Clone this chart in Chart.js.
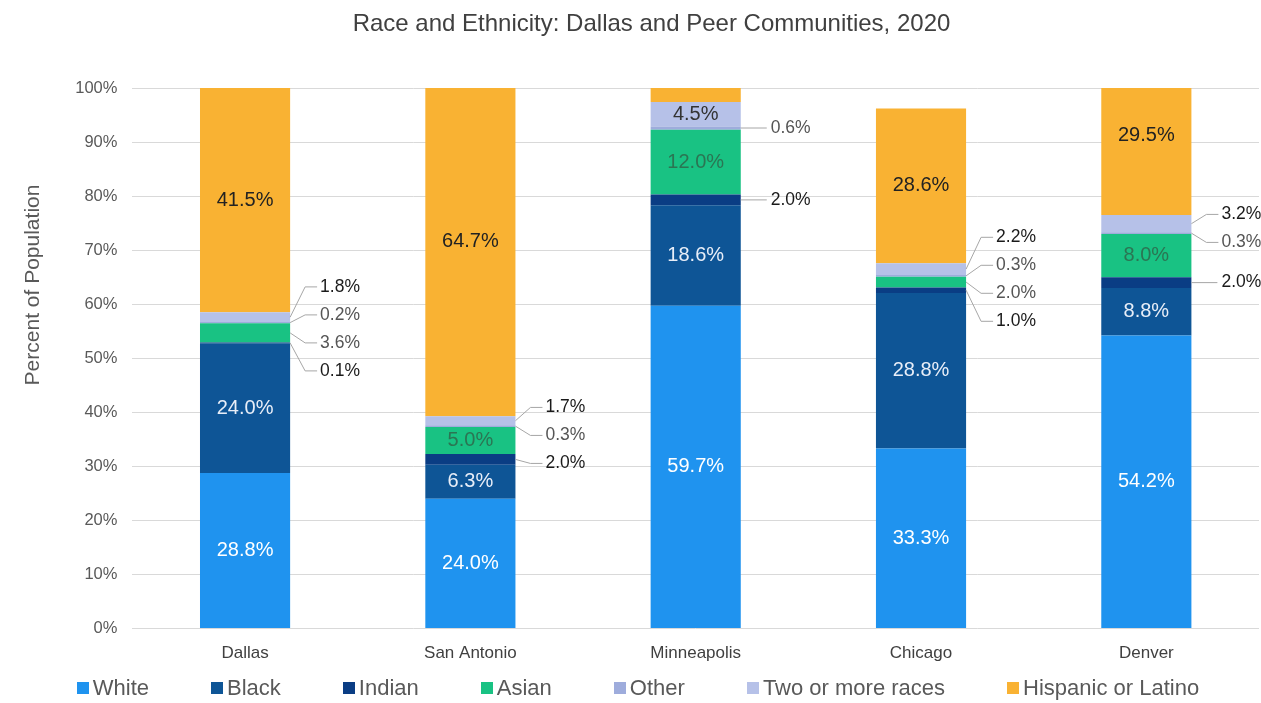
<!DOCTYPE html>
<html>
<head>
<meta charset="utf-8">
<title>Race and Ethnicity: Dallas and Peer Communities, 2020</title>
<script src="https://cdn.jsdelivr.net/npm/chart.js@4"></script>
<style>
  body { margin: 0; background: #fff; }
  #wrap { position: relative; width: 1261px; height: 703px; }
  #legend {
    position: absolute; left: 15px; right: 0; top: 674px;
    margin: 0; padding: 0; list-style: none;
    display: flex; justify-content: center; gap: 62px;
    font: 22px "Liberation Sans", Arial, sans-serif; line-height: 28px; color: #595959;
  }
  #legend li { display: flex; align-items: center; white-space: nowrap; }
  #legend .box { width: 12px; height: 12px; margin-right: 4px; }
</style>
</head>
<body>
<div id="wrap">
  <canvas id="chart"></canvas>
  <ul id="legend"></ul>
</div>
<script>
const categories = ['Dallas', 'San Antonio', 'Minneapolis', 'Chicago', 'Denver'];

// percent of population by group
const white = [28.8, 24.0, 59.7, 33.3, 54.2];
const black = [24.0, 6.3, 18.6, 28.8, 8.8];
const indian = [0.1, 2.0, 2.0, 1.0, 2.0];
const asian = [3.6, 5.0, 12.0, 2.0, 8.0];
const other = [0.2, 0.3, 0.6, 0.3, 0.3];
const twoOrMore = [1.8, 1.7, 4.5, 2.2, 3.2];
const hispanic = [41.5, 64.7, 9.6, 28.6, 29.5];

const yTicks = [0, 10, 20, 30, 40, 50, 60, 70, 80, 90, 100];

const FONT = '"Liberation Sans", Arial, sans-serif';

function series(label, data, color, insideColor, outsideColor) {
  return {
    label: label,
    data: data,
    backgroundColor: color,
    borderWidth: 0,
    barPercentage: 0.4,
    categoryPercentage: 1,
    clip: 0,
    insideColor: insideColor,
    outsideColor: outsideColor
  };
}

// push overlapping callouts apart, keeping each group centred on its segments
function spreadCallouts(list, gap) {
  list.sort((a, b) => b.anchor - a.anchor);
  const groups = list.map(c => ({ items: [c], mean: c.anchor }));
  let merged = true;
  while (merged) {
    merged = false;
    for (let k = 0; k < groups.length - 1; k++) {
      const a = groups[k], b = groups[k + 1];
      const aTop = a.mean - (a.items.length - 1) * gap / 2;
      const bBottom = b.mean + (b.items.length - 1) * gap / 2;
      if (aTop - bBottom < gap) {
        const items = a.items.concat(b.items);
        const mean = items.reduce((s, c) => s + c.anchor, 0) / items.length;
        groups.splice(k, 2, { items: items, mean: mean });
        merged = true;
        break;
      }
    }
  }
  groups.forEach(g => g.items.forEach((c, j) => {
    c.y = g.mean + ((g.items.length - 1) / 2 - j) * gap;
  }));
}

const segmentLabels = {
  id: 'segmentLabels',
  afterDatasetsDraw(chart) {
    const { ctx, chartArea } = chart;
    const callouts = categories.map(() => []);
    ctx.save();
    ctx.textBaseline = 'middle';
    chart.data.datasets.forEach((ds, di) => {
      const meta = chart.getDatasetMeta(di);
      meta.data.forEach((bar, i) => {
        const v = ds.data[i];
        const p = bar.getProps(['x', 'y', 'base', 'width'], true);
        const mid = (p.y + p.base) / 2;
        if (mid < chartArea.top) return;
        const text = v.toFixed(1) + '%';
        if (v >= 4) {
          ctx.font = '20px ' + FONT;
          ctx.fillStyle = ds.insideColor;
          ctx.textAlign = 'center';
          ctx.fillText(text, p.x, mid);
        } else {
          callouts[i].push({ text: text, anchor: mid, right: p.x + p.width / 2, color: ds.outsideColor });
        }
      });
    });

    ctx.font = '17.5px ' + FONT;
    ctx.textAlign = 'left';
    ctx.lineWidth = 1;
    ctx.strokeStyle = '#a6a6a6';
    callouts.forEach(list => {
      spreadCallouts(list, 28);
      list.forEach(c => {
        ctx.beginPath();
        ctx.moveTo(c.right, c.anchor);
        if (Math.abs(c.y - c.anchor) < 3) {
          ctx.lineTo(c.right + 26, c.y);
        } else {
          ctx.lineTo(c.right + 15, c.y);
          ctx.lineTo(c.right + 27, c.y);
        }
        ctx.stroke();
        ctx.fillStyle = c.color;
        ctx.fillText(c.text, c.right + 30, c.y);
      });
    });
    ctx.restore();
  },
  afterDraw(chart) {
    const ctx = chart.ctx;
    ctx.save();
    ctx.translate(33, 285);
    ctx.rotate(-Math.PI / 2);
    ctx.font = '21px ' + FONT;
    ctx.fillStyle = '#595959';
    ctx.textAlign = 'center';
    ctx.textBaseline = 'middle';
    ctx.fillText('Percent of Population', 0, 0);
    ctx.restore();
  }
};

const htmlLegend = {
  id: 'htmlLegend',
  afterUpdate(chart) {
    const ul = document.getElementById('legend');
    ul.innerHTML = '';
    chart.data.datasets.forEach(ds => {
      const li = document.createElement('li');
      const box = document.createElement('span');
      box.className = 'box';
      box.style.background = ds.backgroundColor;
      const label = document.createElement('span');
      label.textContent = ds.label;
      li.appendChild(box);
      li.appendChild(label);
      ul.appendChild(li);
    });
  }
};

new Chart(document.getElementById('chart'), {
  type: 'bar',
  data: {
    labels: categories,
    datasets: [
      series('White', white, '#1f93ef', '#ffffff', '#555555'),
      series('Black', black, '#0e5596', '#e8eef8', '#555555'),
      series('Indian', indian, '#0a3d84', '#e8eef8', '#1a1a1a'),
      series('Asian', asian, '#19c283', '#2b7553', '#555555'),
      series('Other', other, '#9eacdc', '#333333', '#555555'),
      series('Two or more races', twoOrMore, '#b6c1e8', '#333333', '#1a1a1a'),
      series('Hispanic or Latino', hispanic, '#f9b233', '#222222', '#1a1a1a')
    ]
  },
  options: {
    responsive: true,
    maintainAspectRatio: false,
    animation: false,
    layout: { padding: { left: 44, right: 2, top: 0, bottom: 24 } },
    scales: {
      x: {
        stacked: true,
        grid: { display: false, drawTicks: false },
        border: { display: false },
        ticks: { color: '#404040', padding: 15, font: { family: FONT, size: 17 } }
      },
      y: {
        stacked: true,
        min: 0,
        max: 100,
        afterBuildTicks: scale => { scale.ticks = yTicks.map(v => ({ value: v })); },
        afterFit: scale => { scale.width = 88.4; },
        grid: { color: '#d9d9d9', drawTicks: false },
        border: { display: false },
        ticks: {
          color: '#595959',
          padding: 15,
          font: { family: FONT, size: 16.5 },
          callback: v => v + '%'
        }
      }
    },
    plugins: {
      legend: { display: false },
      tooltip: { enabled: false },
      title: {
        display: true,
        text: 'Race and Ethnicity: Dallas and Peer Communities, 2020',
        color: '#404040',
        font: { family: FONT, size: 24, weight: 'normal' },
        padding: { top: 10, bottom: 49.2 }
      }
    }
  },
  plugins: [segmentLabels, htmlLegend]
});
</script>
</body>
</html>
